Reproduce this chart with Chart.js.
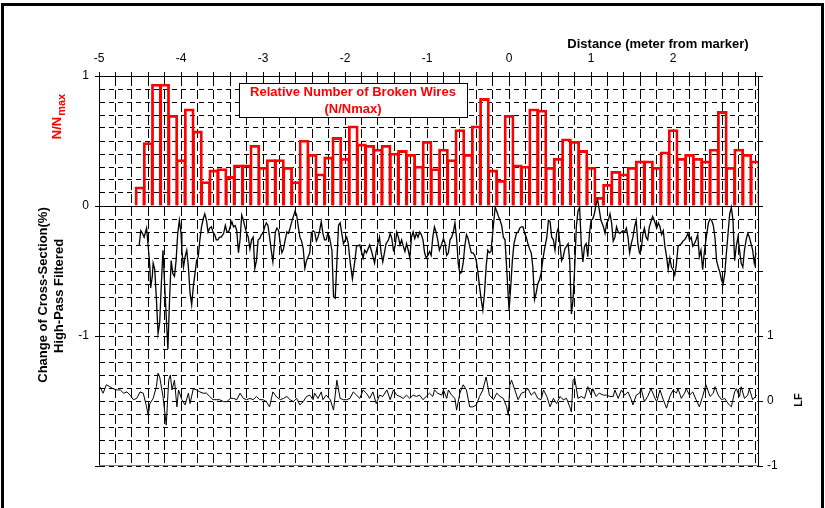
<!DOCTYPE html>
<html><head><meta charset="utf-8">
<script src="https://cdn.jsdelivr.net/npm/chart.js@4.4.1/dist/chart.umd.min.js"></script>
<style>html,body{margin:0;padding:0;background:#fff;}#wrap{width:825px;height:508px;}</style>
</head><body><div id="wrap"><canvas id="c" width="825" height="508"></canvas></div>
<script>
// ---------- DATA ----------
const barX = [-4.5,-4.4,-4.3,-4.2,-4.1,-4.0,-3.9,-3.8,-3.7,-3.6,-3.5,-3.4,-3.3,-3.2,-3.1,-3.0,-2.9,-2.8,-2.7,-2.6,
  -2.5,-2.4,-2.3,-2.2,-2.1,-2.0,-1.9,-1.8,-1.7,-1.6,-1.5,-1.4,-1.3,-1.2,-1.1,-1.0,-0.9,-0.8,-0.7,-0.6,
  -0.5,-0.4,-0.3,-0.2,-0.1,0.0,0.1,0.2,0.3,0.4,0.5,0.6,0.7,0.8,0.9,1.0,1.1,1.2,1.3,1.4,
  1.5,1.6,1.7,1.8,1.9,2.0,2.1,2.2,2.3,2.4,2.5,2.6,2.7,2.8,2.9,3.0];
const barN = [0.15,0.49,0.94,0.94,0.70,0.36,0.75,0.58,0.19,0.28,0.29,0.23,0.32,0.32,0.47,0.30,0.36,0.36,0.30,0.19,
  0.51,0.40,0.25,0.38,0.53,0.37,0.62,0.48,0.47,0.44,0.47,0.41,0.43,0.40,0.31,0.50,0.29,0.44,0.36,0.59,
  0.40,0.62,0.83,0.28,0.20,0.70,0.32,0.31,0.75,0.74,0.30,0.37,0.52,0.50,0.43,0.30,0.07,0.17,0.27,0.25,
  0.30,0.35,0.35,0.30,0.42,0.59,0.37,0.40,0.37,0.35,0.44,0.73,0.30,0.44,0.40,0.35];

const hpX = [-4.51,-4.49,-4.47,-4.45,-4.42,-4.40,-4.38,-4.37,-4.35,-4.34,-4.32,-4.30,-4.28,-4.26,-4.24,-4.22,-4.20,-4.18,-4.16,-4.14,
  -4.12,-4.10,-4.08,-4.06,-4.04,-4.02,-4.00,-3.99,-3.97,-3.95,-3.93,-3.91,-3.89,-3.87,-3.85,-3.83,-3.81,-3.79,-3.77,-3.75,
  -3.73,-3.71,-3.69,-3.67,-3.65,-3.63,-3.61,-3.59,-3.57,-3.55,-3.53,-3.51,-3.48,-3.46,-3.44,-3.42,-3.40,-3.38,-3.36,-3.34,
  -3.32,-3.30,-3.28,-3.26,-3.24,-3.22,-3.20,-3.18,-3.16,-3.14,-3.12,-3.10,-3.08,-3.06,-3.04,-3.02,-3.00,-2.98,-2.96,-2.94,
  -2.92,-2.90,-2.88,-2.87,-2.85,-2.83,-2.81,-2.79,-2.77,-2.75,-2.73,-2.71,-2.69,-2.67,-2.65,-2.63,-2.61,-2.59,-2.57,-2.55,
  -2.53,-2.51,-2.49,-2.47,-2.45,-2.43,-2.41,-2.39,-2.37,-2.35,-2.33,-2.31,-2.29,-2.27,-2.25,-2.23,-2.21,-2.19,-2.16,-2.14,
  -2.12,-2.10,-2.08,-2.06,-2.02,-1.98,-1.96,-1.94,-1.91,-1.88,-1.86,-1.82,-1.80,-1.78,-1.76,-1.74,-1.72,-1.70,-1.68,-1.66,
  -1.64,-1.62,-1.60,-1.58,-1.56,-1.54,-1.52,-1.50,-1.47,-1.45,-1.43,-1.41,-1.39,-1.37,-1.35,-1.33,-1.31,-1.29,-1.27,-1.25,
  -1.23,-1.21,-1.19,-1.17,-1.15,-1.13,-1.11,-1.09,-1.07,-1.05,-1.03,-1.01,-0.99,-0.97,-0.95,-0.93,-0.91,-0.89,-0.87,-0.85,
  -0.82,-0.80,-0.78,-0.76,-0.74,-0.72,-0.70,-0.68,-0.66,-0.64,-0.62,-0.60,-0.58,-0.56,-0.54,-0.52,-0.50,-0.48,-0.46,-0.44,
  -0.42,-0.40,-0.38,-0.36,-0.34,-0.32,-0.30,-0.28,-0.26,-0.24,-0.22,-0.20,-0.17,-0.15,-0.13,-0.11,-0.09,-0.07,-0.05,-0.03,
  -0.01,0.00,0.02,0.04,0.06,0.09,0.11,0.13,0.15,0.17,0.19,0.21,0.23,0.25,0.27,0.29,0.31,0.33,0.35,0.37,
  0.39,0.41,0.43,0.46,0.48,0.50,0.52,0.54,0.56,0.58,0.60,0.62,0.64,0.66,0.68,0.70,0.72,0.74,0.76,0.78,
  0.80,0.82,0.84,0.86,0.88,0.90,0.92,0.94,0.96,0.98,1.00,1.02,1.04,1.06,1.08,1.10,1.12,1.15,1.17,1.19,
  1.21,1.23,1.25,1.27,1.29,1.31,1.33,1.35,1.37,1.39,1.41,1.43,1.45,1.47,1.49,1.51,1.53,1.55,1.57,1.59,
  1.61,1.63,1.65,1.67,1.69,1.71,1.73,1.75,1.77,1.80,1.82,1.84,1.86,1.88,1.90,1.92,1.94,1.96,1.98,2.00,
  2.02,2.04,2.06,2.08,2.10,2.12,2.14,2.16,2.18,2.20,2.22,2.24,2.26,2.28,2.30,2.32,2.34,2.36,2.38,2.40,
  2.43,2.45,2.47,2.49,2.51,2.53,2.55,2.57,2.59,2.61,2.63,2.65,2.67,2.69,2.71,2.73,2.75,2.77,2.79,2.81,
  2.83,2.85,2.87,2.89,2.91,2.93,2.95,2.97,2.99,3.01];
const hpY = [-0.30,-0.19,-0.21,-0.24,-0.17,-0.31,-0.47,-0.63,-0.54,-0.44,-0.49,-0.72,-0.98,-0.90,-0.60,-0.34,-0.60,-0.85,-1.10,-0.72,
  -0.42,-0.52,-0.54,-0.42,-0.21,-0.11,-0.21,-0.34,-0.47,-0.39,-0.34,-0.47,-0.67,-0.76,-0.62,-0.52,-0.42,-0.39,-0.26,-0.16,
  -0.10,-0.06,-0.11,-0.20,-0.17,-0.16,-0.20,-0.22,-0.26,-0.26,-0.24,-0.24,-0.21,-0.15,-0.20,-0.20,-0.16,-0.12,-0.16,-0.15,
  -0.19,-0.36,-0.26,-0.07,-0.11,-0.16,-0.21,-0.24,-0.33,-0.26,-0.24,-0.48,-0.42,-0.26,-0.25,-0.22,-0.21,-0.16,-0.13,-0.15,
  -0.24,-0.34,-0.43,-0.36,-0.20,-0.17,-0.19,-0.29,-0.36,-0.33,-0.26,-0.20,-0.21,-0.17,-0.12,-0.08,-0.04,-0.07,-0.16,-0.24,
  -0.27,-0.33,-0.48,-0.42,-0.39,-0.36,-0.21,-0.19,-0.20,-0.27,-0.24,-0.19,-0.12,-0.21,-0.26,-0.26,-0.21,-0.24,-0.34,-0.70,
  -0.71,-0.44,-0.15,-0.13,-0.29,-0.24,-0.29,-0.42,-0.56,-0.42,-0.31,-0.30,-0.35,-0.40,-0.34,-0.36,-0.33,-0.30,-0.34,-0.39,
  -0.44,-0.35,-0.29,-0.24,-0.36,-0.43,-0.36,-0.29,-0.26,-0.21,-0.25,-0.34,-0.31,-0.20,-0.24,-0.30,-0.26,-0.31,-0.35,-0.29,
  -0.34,-0.40,-0.24,-0.20,-0.25,-0.21,-0.24,-0.20,-0.22,-0.26,-0.36,-0.40,-0.38,-0.35,-0.38,-0.24,-0.16,-0.20,-0.26,-0.34,
  -0.29,-0.25,-0.29,-0.38,-0.36,-0.26,-0.24,-0.20,-0.13,-0.25,-0.44,-0.52,-0.51,-0.44,-0.31,-0.22,-0.25,-0.31,-0.36,-0.36,
  -0.38,-0.42,-0.51,-0.62,-0.72,-0.80,-0.67,-0.47,-0.34,-0.36,-0.35,-0.21,-0.01,-0.04,-0.08,-0.11,-0.15,-0.24,-0.26,-0.47,
  -0.70,-0.80,-0.62,-0.42,-0.29,-0.21,-0.20,-0.17,-0.16,-0.16,-0.21,-0.24,-0.29,-0.33,-0.36,-0.47,-0.72,-0.67,-0.60,-0.57,
  -0.52,-0.42,-0.34,-0.24,-0.11,-0.12,-0.24,-0.26,-0.34,-0.21,-0.17,-0.29,-0.42,-0.39,-0.33,-0.31,-0.29,-0.43,-0.83,-0.72,
  -0.47,-0.16,-0.04,-0.01,-0.29,-0.43,-0.31,-0.29,-0.39,-0.21,-0.11,-0.10,-0.06,0.01,0.05,-0.03,-0.11,-0.16,-0.21,-0.13,
  -0.11,-0.06,-0.13,-0.27,-0.24,-0.16,-0.20,-0.21,-0.20,-0.19,-0.20,-0.17,-0.24,-0.36,-0.29,-0.24,-0.16,-0.11,-0.29,-0.36,
  -0.34,-0.22,-0.17,-0.24,-0.26,-0.16,-0.12,-0.08,-0.11,-0.17,-0.13,-0.16,-0.22,-0.19,-0.31,-0.39,-0.49,-0.40,-0.47,-0.49,
  -0.53,-0.45,-0.31,-0.30,-0.29,-0.27,-0.26,-0.24,-0.21,-0.26,-0.24,-0.31,-0.29,-0.26,-0.22,-0.39,-0.34,-0.49,-0.36,-0.26,
  -0.13,-0.10,-0.11,-0.15,-0.24,-0.42,-0.47,-0.51,-0.57,-0.60,-0.52,-0.36,-0.21,-0.06,-0.01,-0.11,-0.42,-0.31,-0.24,-0.34,
  -0.44,-0.47,-0.34,-0.26,-0.21,-0.24,-0.29,-0.34,-0.44,-0.36];

const lfX = [-4.99,-4.95,-4.91,-4.87,-4.83,-4.78,-4.74,-4.70,-4.66,-4.62,-4.58,-4.54,-4.50,-4.46,-4.42,-4.40,-4.38,-4.34,-4.30,-4.28,
  -4.26,-4.22,-4.18,-4.15,-4.13,-4.11,-4.08,-4.05,-4.03,-3.99,-3.95,-3.91,-3.89,-3.85,-3.81,-3.77,-3.73,-3.69,-3.65,-3.61,
  -3.57,-3.53,-3.48,-3.44,-3.40,-3.36,-3.32,-3.28,-3.24,-3.20,-3.16,-3.12,-3.08,-3.04,-3.00,-2.96,-2.92,-2.88,-2.84,-2.79,
  -2.75,-2.71,-2.67,-2.63,-2.59,-2.55,-2.51,-2.47,-2.43,-2.39,-2.37,-2.33,-2.29,-2.27,-2.23,-2.18,-2.14,-2.10,-2.06,-2.02,
  -1.98,-1.94,-1.90,-1.86,-1.82,-1.78,-1.74,-1.70,-1.66,-1.62,-1.58,-1.54,-1.49,-1.45,-1.41,-1.37,-1.33,-1.29,-1.25,-1.21,
  -1.17,-1.13,-1.09,-1.05,-1.01,-0.97,-0.93,-0.91,-0.87,-0.82,-0.80,-0.76,-0.74,-0.70,-0.66,-0.64,-0.60,-0.56,-0.52,-0.48,
  -0.44,-0.40,-0.36,-0.32,-0.28,-0.24,-0.19,-0.15,-0.11,-0.07,-0.03,-0.01,0.01,0.03,0.07,0.11,0.15,0.19,0.23,0.27,
  0.31,0.35,0.39,0.42,0.46,0.50,0.54,0.58,0.62,0.66,0.70,0.74,0.76,0.78,0.80,0.84,0.88,0.92,0.96,1.00,
  1.02,1.06,1.10,1.15,1.19,1.23,1.27,1.29,1.33,1.37,1.41,1.45,1.49,1.51,1.55,1.59,1.61,1.65,1.69,1.73,
  1.78,1.80,1.84,1.88,1.92,1.96,2.00,2.04,2.06,2.10,2.14,2.16,2.20,2.24,2.28,2.32,2.36,2.40,2.45,2.49,
  2.51,2.55,2.59,2.63,2.67,2.71,2.75,2.77,2.81,2.83,2.87,2.91,2.93,2.97,3.02];
const lfY = [0.22,0.12,0.25,0.22,0.19,0.17,0.17,0.12,0.14,0.09,0.02,0.04,0.14,0.12,-0.09,-0.22,-0.04,0.04,0.22,0.43,
  0.37,0.07,-0.37,0.32,0.40,0.17,0.32,-0.09,0.17,0.02,-0.06,0.12,-0.04,0.19,0.17,0.14,0.12,0.12,0.07,0.02,
  0.02,0.02,-0.01,-0.01,0.04,0.04,0.02,0.12,0.04,0.02,0.04,0.02,0.07,0.02,0.02,-0.01,-0.09,0.14,0.07,0.02,
  0.04,0.07,0.02,-0.01,0.04,-0.06,-0.01,0.07,0.09,0.02,0.12,0.04,0.14,0.02,0.09,0.02,-0.14,0.32,0.04,0.02,
  0.02,0.04,0.14,0.09,0.04,0.17,0.12,0.04,0.14,-0.04,0.09,0.07,0.17,0.02,0.17,0.09,0.07,0.04,0.09,0.04,
  0.09,0.07,0.09,0.02,0.07,0.12,0.07,0.17,0.12,0.09,0.17,0.04,0.17,0.09,0.04,-0.14,0.12,0.25,0.17,-0.09,
  -0.09,-0.06,0.07,0.17,0.37,0.09,0.02,0.12,0.07,0.04,-0.09,-0.22,0.25,0.32,0.17,0.02,0.12,0.14,0.19,0.09,
  0.14,0.04,0.02,0.17,0.07,-0.09,0.04,-0.04,0.07,0.02,0.04,-0.09,-0.17,0.32,0.35,0.04,0.07,0.04,0.22,0.09,
  0.19,0.07,0.12,0.09,0.09,0.07,0.07,0.17,0.04,0.17,0.09,0.14,0.02,-0.06,0.09,0.12,0.19,-0.01,0.07,0.19,
  0.04,-0.01,0.17,0.02,-0.11,0.07,0.17,0.12,0.19,0.04,0.12,0.19,0.09,0.14,0.02,-0.09,0.07,0.25,0.07,0.12,
  0.22,0.09,0.02,0.04,-0.04,-0.09,0.14,0.19,0.07,0.22,0.04,0.09,0.19,0.02,0.09];

const xTickLabels = [-5,-4,-3,-2,-1,0,1,2];
const leftTickLabels = [1,0,-1];
const rightTickLabels = [1,0,-1];

// ---------- CHART ----------
const FONT = "'Liberation Sans', Arial, sans-serif";
Chart.defaults.font.family = FONT;
Chart.defaults.color = '#000';
const r1 = v => Math.round(v * 10) / 10;
const pts = (xs, ys) => xs.map((x, i) => ({x: x, y: ys[i]}));
const GRID = '#000';

const extras = {
  id: 'extras',
  beforeDatasetsDraw(chart) {
    const {ctx, chartArea: a, scales: {y}} = chart;
    ctx.save();
    const y0 = Math.round(y.getPixelForValue(0)) + 0.5;
    ctx.strokeStyle = '#000'; ctx.lineWidth = 1;
    ctx.beginPath(); ctx.moveTo(a.left, y0); ctx.lineTo(a.right, y0); ctx.stroke();
    const yb = Math.round(a.bottom) - 0.5;
    ctx.strokeStyle = '#808080';
    ctx.beginPath(); ctx.moveTo(a.left, yb); ctx.lineTo(a.right, yb); ctx.stroke();
    ctx.restore();
  },
  afterDatasetsDraw(chart) {
    const {ctx, chartArea: a} = chart;
    ctx.save();
    const bx = a.left + 140, by = a.top + 7, bw = 228, bh = 34;
    ctx.fillStyle = '#fff'; ctx.fillRect(bx, by, bw, bh);
    ctx.strokeStyle = '#000'; ctx.lineWidth = 1; ctx.strokeRect(bx + 0.5, by + 0.5, bw, bh);
    ctx.fillStyle = '#ff0000'; ctx.font = 'bold 13px ' + FONT;
    ctx.textAlign = 'center'; ctx.textBaseline = 'middle';
    ctx.fillText('Relative Number of Broken Wires', bx + bw / 2, by + 9);
    ctx.fillText('(N/Nmax)', bx + bw / 2, by + 26);
    ctx.restore();
  },
  afterDraw(chart) {
    const {ctx} = chart;
    ctx.save();
    ctx.fillStyle = '#000';
    ctx.font = 'bold 13px ' + FONT; ctx.textAlign = 'center'; ctx.textBaseline = 'middle';
    ctx.fillText('Distance (meter from marker)', 658, 44);
    ctx.save(); ctx.translate(43, 295); ctx.rotate(-Math.PI / 2);
    ctx.fillText('Change of Cross-Section(%)', 0, 0); ctx.restore();
    ctx.save(); ctx.translate(59, 296); ctx.rotate(-Math.PI / 2);
    ctx.fillText('High-Pass Filtered', 0, 0); ctx.restore();
    ctx.save(); ctx.translate(57, 117); ctx.rotate(-Math.PI / 2);
    ctx.fillStyle = '#ff0000'; ctx.textAlign = 'left'; ctx.textBaseline = 'alphabetic';
    ctx.font = 'bold 13px ' + FONT; const w1 = ctx.measureText('N/N').width;
    ctx.font = 'bold 11px ' + FONT; const w2 = ctx.measureText('max').width;
    const sx = -(w1 + w2) / 2;
    ctx.font = 'bold 13px ' + FONT; ctx.fillText('N/N', sx, 4);
    ctx.font = 'bold 11px ' + FONT; ctx.fillText('max', sx + w1 + 1, 8);
    ctx.restore();
    ctx.save(); ctx.translate(799, 400); ctx.rotate(-Math.PI / 2);
    ctx.font = 'bold 11px ' + FONT; ctx.fillText('LF', 0, 0); ctx.restore();
    ctx.strokeStyle = '#000'; ctx.lineWidth = 3;
    ctx.strokeRect(2.5, 4.5, 820, 520);
    ctx.restore();
  }
};

new Chart(document.getElementById('c'), {
  type: 'bar',
  data: {
    datasets: [
      {type: 'line', label: 'High-Pass Filtered', data: pts(hpX, hpY), xAxisID: 'x', yAxisID: 'y',
        borderColor: '#000', borderWidth: 1.3, pointRadius: 0, tension: 0, order: 1},
      {type: 'line', label: 'LF', data: pts(lfX, lfY), xAxisID: 'x', yAxisID: 'y2',
        borderColor: '#000', borderWidth: 1, pointRadius: 0, tension: 0, order: 1},
      {type: 'bar', label: 'N/Nmax', data: pts(barX, barN), xAxisID: 'x', yAxisID: 'y',
        borderColor: '#ff0000', backgroundColor: 'rgba(0,0,0,0)', borderWidth: 2.8,
        barPercentage: 1.3, categoryPercentage: 1, borderSkipped: 'start', order: 2}
    ]
  },
  options: {
    responsive: false, animation: false,
    layout: {padding: {top: 0, left: 0, right: 0, bottom: 42}},
    plugins: {legend: {display: false}, tooltip: {enabled: false}},
    scales: {
      x: {type: 'linear', position: 'top', min: -5, max: 3.035, offset: false,
        afterBuildTicks: s => { const t = []; for (let i = 0; i <= 40; i++) t.push({value: r1(-5 + i * 0.2)}); s.ticks = t; },
        afterFit: s => { s.height = 76; },
        ticks: {autoSkip: false, maxRotation: 0, minRotation: 0, padding: 6, font: {size: 12}, color: '#000',
          callback: v => xTickLabels.includes(r1(v)) ? String(Math.round(v)) : ''},
        grid: {offset: false, color: GRID, lineWidth: 1, tickLength: 4, tickColor: '#000'},
        border: {color: '#000', width: 1, dash: [9, 4]}
      },
      y: {type: 'linear', position: 'left', min: -2, max: 1,
        afterBuildTicks: s => { const t = []; for (let i = 0; i <= 30; i++) t.push({value: r1(-2 + i * 0.1)}); s.ticks = t; },
        afterFit: s => { s.width = 99; },
        ticks: {autoSkip: false, padding: 6, font: {size: 12}, color: '#000',
          callback: v => leftTickLabels.includes(r1(v)) ? String(Math.round(v)) : ''},
        grid: {color: GRID, lineWidth: 1, tickLength: 4,
          tickColor: c => (c.tick && Number.isInteger(r1(c.tick.value))) ? '#000' : 'rgba(0,0,0,0)'},
        border: {color: '#000', width: 1, dash: [5, 4]}
      },
      y2: {type: 'linear', position: 'right', min: -1, max: 5,
        afterBuildTicks: s => { const t = []; for (let i = -1; i <= 5; i++) t.push({value: i}); s.ticks = t; },
        afterFit: s => { s.width = 67; },
        ticks: {autoSkip: false, padding: 4, font: {size: 12}, color: '#000',
          callback: v => rightTickLabels.includes(v) ? String(v) : ''},
        grid: {drawOnChartArea: false, color: '#000', tickLength: 5, tickColor: '#000'},
        border: {color: '#000', width: 1}
      }
    }
  },
  plugins: [extras]
});
</script>
</body></html>
